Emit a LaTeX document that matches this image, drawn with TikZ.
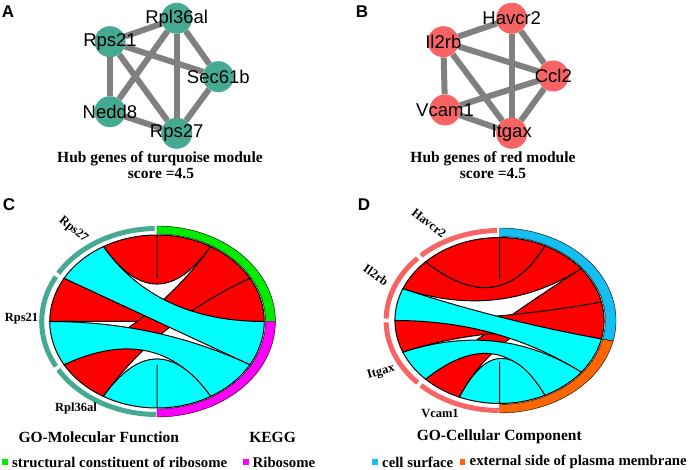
\documentclass[tikz,border=0pt]{standalone}
\usepackage{fontspec}
\setmainfont{Liberation Serif}
\newfontfamily\arialfont{Liberation Sans}
\usepackage{tikz}
\usetikzlibrary{calc}
\usetikzlibrary{backgrounds}

\definecolor{turq}{RGB}{69,170,145}
\definecolor{redmod}{RGB}{248,100,100}
\definecolor{edgegray}{RGB}{128,128,128}
\definecolor{ribred}{RGB}{255,0,0}
\definecolor{ribcyan}{RGB}{0,255,255}
\definecolor{mfgreen}{RGB}{0,235,0}
\definecolor{keggpink}{RGB}{255,0,255}
\definecolor{ccblue}{RGB}{20,190,240}
\definecolor{ccorange}{RGB}{255,102,0}

\tikzset{
  gene/.style={circle, inner sep=0pt, minimum size=31pt},
  genename/.style={inner sep=0pt, font=\arialfont\fontsize{18.5}{19}\selectfont},
  ppi/.style={draw=edgegray, line width=6pt},
  panel/.style={inner sep=0pt, font=\arialfont\bfseries\fontsize{17}{17}\selectfont},
  caption/.style={inner sep=0pt, font=\bfseries\fontsize{15.5}{16}\selectfont},
  keytext/.style={inner sep=0pt, anchor=west, font=\bfseries\fontsize{14.8}{15}\selectfont},
  sector/.style={inner sep=0pt, font=\bfseries\fontsize{12.5}{13}\selectfont},
  genearc/.style={draw=#1, line width=5pt},
  termarc/.style={draw=black, line width=0.4pt},
  ribbon/.style={draw=black, line width=1pt},
  key/.style={inner sep=0pt, minimum size=5.5pt}
}

% left arc #2..#3 joined to right arc #4..#5, radius #6
\newcommand{\chordribbon}[6]{%
  \filldraw[ribbon, fill=#1] (#2:#6) arc[start angle=#2, end angle=#3, radius=#6]
    .. controls ($(#3:#6)!2/3!(0,0)$) and ($(#4:#6)!2/3!(0,0)$) .. (#4:#6)
    arc[start angle=#4, end angle=#5, radius=#6]
    .. controls ($(#5:#6)!2/3!(0,0)$) and ($(#2:#6)!2/3!(0,0)$) .. (#2:#6) -- cycle;}

\begin{document}
\begin{tikzpicture}[x=1pt,y=1pt]
        \useasboundingbox (0,0) rectangle (699,470);

        \node[panel] (pA) at (8,458) {A};
        \node[panel] (pB) at (362,458) {B};
        \node[panel] (pC) at (9,265) {C};
        \node[panel] (pD) at (364,265) {D};

        \node[gene, fill=turq] (rpl36al) at (176.7,451.7) {};
        \node[gene, fill=turq] (rps21) at (110,428.3) {};
        \node[gene, fill=turq] (sec61b) at (218.3,393.3) {};
        \node[gene, fill=turq] (nedd8) at (110,358.3) {};
        \node[gene, fill=turq] (rps27) at (176.7,336.7) {};
        \node[genename] (rpl36al-t) at (rpl36al) {Rpl36al};
        \node[genename] (rps21-t) at (rps21) {Rps21};
        \node[genename] (sec61b-t) at (sec61b) {Sec61b};
        \node[genename] (nedd8-t) at (nedd8) {Nedd8};
        \node[genename] (rps27-t) at (rps27) {Rps27};
        \begin{scope}[on background layer]
          \draw[ppi] (rps21) -- (rpl36al);
          \draw[ppi] (rps21) -- (sec61b);
          \draw[ppi] (rps21) -- (nedd8);
          \draw[ppi] (rps21) -- (rps27);
          \draw[ppi] (rpl36al) -- (nedd8);
          \draw[ppi] (rpl36al) -- (rps27);
          \draw[ppi] (rpl36al) -- (sec61b);
          \draw[ppi] (sec61b) -- (rps27);
          \draw[ppi] (nedd8) -- (rps27);
        \end{scope}
        \node[caption] (capA) at (160,311) {Hub genes of turquoise module};
        \node[caption] (scoreA) at (161,296) {score =4.5};

        \node[gene, fill=redmod] (havcr2) at (511.7,451.7) {};
        \node[gene, fill=redmod] (il2rb) at (443.3,428.3) {};
        \node[gene, fill=redmod] (ccl2) at (553.3,394) {};
        \node[gene, fill=redmod] (vcam1) at (445,360) {};
        \node[gene, fill=redmod] (itgax) at (511.7,336.7) {};
        \node[genename] (havcr2-t) at (havcr2) {Havcr2};
        \node[genename] (il2rb-t) at (il2rb) {Il2rb};
        \node[genename] (ccl2-t) at (ccl2) {Ccl2};
        \node[genename] (vcam1-t) at (vcam1) {Vcam1};
        \node[genename] (itgax-t) at (itgax) {Itgax};
        \begin{scope}[on background layer]
          \draw[ppi] (il2rb) -- (havcr2);
          \draw[ppi] (havcr2) -- (ccl2);
          \draw[ppi] (havcr2) -- (itgax);
          \draw[ppi] (il2rb) -- (ccl2);
          \draw[ppi] (il2rb) -- (vcam1);
          \draw[ppi] (il2rb) -- (itgax);
          \draw[ppi] (vcam1) -- (ccl2);
          \draw[ppi] (vcam1) -- (itgax);
          \draw[ppi] (ccl2) -- (itgax);
        \end{scope}
        \node[caption] (capB) at (493,311) {Hub genes of red module};
        \node[caption] (scoreB) at (493,296) {score =4.5};

        % GO-MF / KEGG chord
        \begin{scope}[shift={(157,148.5)}, xscale=1.24]
          \draw[genearc=turq] (91.2:93) arc[start angle=91.2, end angle=148.8, radius=93];
          \draw[genearc=turq] (151.2:93) arc[start angle=151.2, end angle=208.8, radius=93];
          \draw[genearc=turq] (211.2:93) arc[start angle=211.2, end angle=269.6, radius=93];
          \filldraw[termarc, fill=mfgreen] (0:87.5) arc[start angle=0, end angle=90, radius=87.5]
            -- (90:95.5) arc[start angle=90, end angle=0, radius=95.5] -- cycle;
          \filldraw[termarc, fill=keggpink] (-90:87.5) arc[start angle=-90, end angle=0, radius=87.5]
            -- (0:95.5) arc[start angle=0, end angle=-90, radius=95.5] -- cycle;
          \chordribbon{ribred}{90}{120}{60}{90}{86.5}
          \chordribbon{ribred}{150}{180}{0}{30}{86.5}
          \chordribbon{ribred}{210}{240}{30}{60}{86.5}
          \chordribbon{ribcyan}{120}{150}{-30}{0}{86.5}
          \chordribbon{ribcyan}{180}{210}{-60}{-30}{86.5}
          \chordribbon{ribcyan}{240}{270}{-90}{-60}{86.5}
        \end{scope}
        \node[sector, rotate=-39] (sRps27) at (73.3,240) {Rps27};
        \node[sector] (sRps21) at (21.5,151) {Rps21};
        \node[sector] (sRpl36al) at (76,62) {Rpl36al};

        % GO-CC chord
        \begin{scope}[shift={(499.5,149.5)}, xscale=1.26]
          \draw[genearc=redmod] (91.2:90) arc[start angle=91.2, end angle=133.8, radius=90];
          \draw[genearc=redmod] (136.2:90) arc[start angle=136.2, end angle=178.8, radius=90];
          \draw[genearc=redmod] (181.2:90) arc[start angle=181.2, end angle=223.8, radius=90];
          \draw[genearc=redmod] (226.2:90) arc[start angle=226.2, end angle=269.6, radius=90];
          \filldraw[termarc, fill=ccblue] (-12.857:84) arc[start angle=-12.857, end angle=90, radius=84]
            -- (90:92.5) arc[start angle=90, end angle=-12.857, radius=92.5] -- cycle;
          \filldraw[termarc, fill=ccorange] (-90:84) arc[start angle=-90, end angle=-12.857, radius=84]
            -- (-12.857:92.5) arc[start angle=-12.857, end angle=-90, radius=92.5] -- cycle;
          \chordribbon{ribred}{90}{135}{64.286}{90}{83}
          \chordribbon{ribred}{135}{157.5}{38.571}{64.286}{83}
          \chordribbon{ribred}{225}{247.5}{12.857}{38.571}{83}
          \chordribbon{ribred}{180}{202.5}{-12.857}{12.857}{83}
          \chordribbon{ribcyan}{157.5}{180}{-38.571}{-12.857}{83}
          \chordribbon{ribcyan}{202.5}{225}{-64.286}{-38.571}{83}
          \chordribbon{ribcyan}{247.5}{270}{-90}{-64.286}{83}
        \end{scope}
        \node[sector, rotate=-38] (sHavcr2) at (429,247) {Havcr2};
        \node[sector, rotate=-35] (sIl2rb) at (376,195) {Il2rb};
        \node[sector, rotate=16] (sItgax) at (381,97.5) {Itgax};
        \node[sector] (sVcam1) at (440,57) {Vcam1};

        \node[caption] (mf) at (98.8,33) {GO-Molecular Function};
        \node[caption] (kegg) at (272.6,33) {KEGG};
        \node[caption] (cc) at (499.3,33) {GO-Cellular Component};

        \node[key, fill=mfgreen] (k1) at (5,8) {};
        \node[keytext] (k1-t) at (12,8) {structural constituent of ribosome};
        \node[key, fill=keggpink] (k2) at (246,8) {};
        \node[keytext] (k2-t) at (252.5,8) {Ribosome};
        \node[key, fill=ccblue] (k3) at (375,8) {};
        \node[keytext] (k3-t) at (382,8) {cell surface};
        \node[key, fill=ccorange] (k4) at (462.5,8) {};
        \node[keytext] (k4-t) at (469.5,8) {external side of plasma membrane};
\end{tikzpicture}
\end{document}
